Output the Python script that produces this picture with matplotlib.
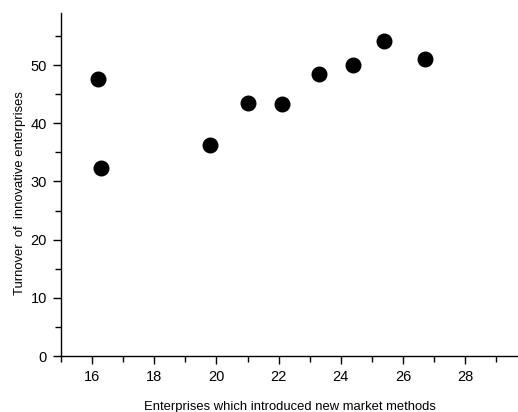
import matplotlib
matplotlib.use("Agg")
import matplotlib.pyplot as plt
from matplotlib.ticker import MultipleLocator

x_vals = [16.2, 16.3, 19.8, 21.0, 22.1, 23.3, 24.4, 25.4, 26.7]
y_vals = [47.6, 32.3, 36.2, 43.4, 43.3, 48.4, 50.0, 54.1, 51.1]
x_label = "Enterprises which introduced new market methods"
y_label = "Turnover  of  innovative enterprises"

plt.rcParams['font.family'] = ['Liberation Sans', 'DejaVu Sans']

fig = plt.figure(figsize=(5.18, 4.12), dpi=100)
ax = fig.add_axes([61/518, 56/412, 1 - 61/518, (356-12.7)/412])
ax.scatter(x_vals, y_vals, s=110, color='black', zorder=3)
ax.set_xlim(15, 29.7)
ax.set_ylim(0, 59)
ax.xaxis.set_major_locator(MultipleLocator(2))
ax.xaxis.set_minor_locator(MultipleLocator(1))
ax.yaxis.set_major_locator(MultipleLocator(10))
ax.yaxis.set_minor_locator(MultipleLocator(5))
for s in ['top', 'right']:
    ax.spines[s].set_visible(False)
for s in ['left', 'bottom']:
    ax.spines[s].set_linewidth(1.0)
ax.tick_params(which='major', direction='out', length=6, width=1, labelsize=10.5, pad=4)
ax.tick_params(which='minor', direction='out', length=4, width=1)
ax.set_xlabel(x_label, fontsize=9.4, labelpad=12)
ax.set_ylabel(y_label, fontsize=9.4, va='center')
ax.yaxis.set_label_coords(-0.09, 0.475)
fig.savefig("out.png", dpi=100)
